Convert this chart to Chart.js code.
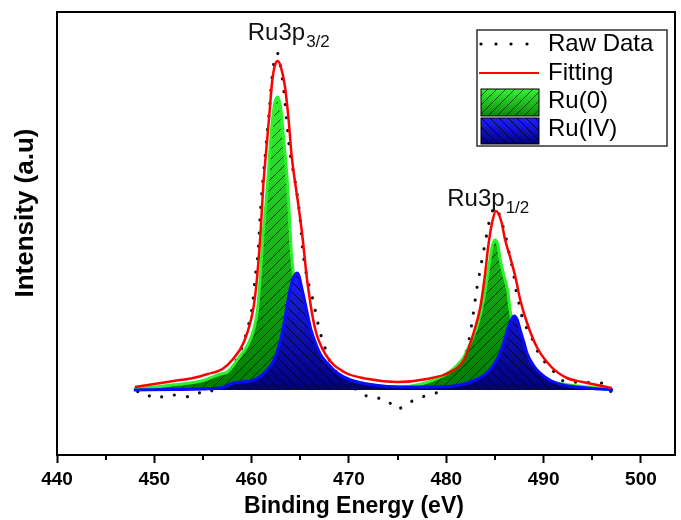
<!DOCTYPE html>
<html>
<head>
<meta charset="utf-8">
<script src="https://cdn.jsdelivr.net/npm/chart.js@4/dist/chart.umd.min.js"></script>
<style>
html,body{margin:0;padding:0;background:#fff;}
#wrap{width:681px;height:520px;}
</style>
</head>
<body>
<div id="wrap"><canvas id="c" width="681" height="520"></canvas></div>
<script>
// ---- data ----
const xTickValues = [440, 450, 460, 470, 480, 490, 500];
const seriesNames = ["Raw Data", "Fitting", "Ru(0)", "Ru(IV)"];
const xTitle = "Binding Energy (eV)";
const yTitle = "Intensity (a.u)";

const rawEnergy = [448.3,449.1,449.8,451.2,452.0,453.6,454.4,455.1,455.7,456.5,457.3,458.1,458.9,459.6,460.07,460.34,460.65,460.9,461.1,461.35,461.6,461.85,462.05,462.45,462.75,463.0,463.3,463.6,463.9,464.3,464.56,464.92,465.27,465.68,466.3,466.97,467.38,467.83,468.34,468.95,469.8,470.8,471.6,472.4,473.2,474.0,474.8,475.6,476.5,477.4,478.2,479.0,479.7,480.4,481.0,481.7,482.1,482.4,482.6,482.8,483.0,483.2,483.45,483.7,483.95,484.2,484.5,484.9,485.2,485.6,486.0,486.5,486.9,487.25,487.6,487.95,488.6,489.1,489.8,490.6,491.4,492.2,493.7,495.0,496.3,497.0];
const rawIntensity = [-1.7,-2.3,-8,-6,-5,-6.7,-3.3,-2.7,-2.3,6,14,24,40,62,84,110,137,177,203,230,257,283,308,336,336,322,300,270,240,217,203,177,138,113,90,60,47,34,22,16,8,0,-5,-8.3,-8.3,-11,-19,-16.7,-11,-7.3,-5,-2.7,5,13,19,27,40,53,65,78,92,105,118,132,145,158,172,182,182,170,158,135,117,95,82,67,57,44,32,23,15,8,8,7,6,-3];

const fitEnergy = [448.0,450.0,452.0,454.0,455.5,457.0,458.0,459.2,460.2,460.55,460.9,461.2,461.5,461.8,462.1,462.4,462.7,463.0,463.4,463.8,464.1,464.4,464.8,465.2,465.7,466.5,467.7,469.5,472.0,475.0,478.0,480.4,481.8,482.8,483.5,484.0,484.3,484.7,485.1,485.7,486.0,486.7,487.1,487.6,488.3,489.3,490.8,492.4,494.0,497.0];
const fitIntensity = [3,6,9,12,16,21,30,48,83,112,155,205,240,273,308,325,329,323,305,270,235,212,185,155,110,62,34,18,11,8,11,18,30,57,83,117,143,167,179,167,152,128,113,90,67,43,23,12,8,2];

const ru0Energy = [447.9,450.0,453.4,454.8,456.8,457.5,458.9,459.6,460.2,460.6,460.9,461.15,461.44,461.72,461.95,462.3,462.64,462.97,463.3,463.6,463.83,464.0,464.17,464.5,465.0,465.5,466.2,467.4,468.5,469.8,471.9,475.0,477.5,479.4,480.6,481.8,482.6,483.2,483.6,484.0,484.4,484.7,485.0,485.3,485.55,485.9,486.3,486.6,487.0,487.6,488.3,489.5,491.0,493.5,497.0];
const ru0Intensity = [1,3,6.7,9,16,18,35,45,60,80,115,152,183,217,250,283,293,283,250,217,183,150,127,100,72,52,38,28,18,11,6,3,6,13,20,33,50,65,80,100,125,143,150,145,130,115,100,77,58,40,27,15,8,4,1];

const ru4Energy = [447.9,452.0,456.8,458.15,460.24,461.6,462.3,462.97,463.4,463.8,464.2,464.69,465.2,465.71,466.1,466.56,467.1,467.76,468.8,470.15,472.5,475.3,478.0,480.75,482.5,484.17,485.0,485.54,486.0,486.39,486.97,487.3,487.59,488.0,488.28,489.0,489.64,490.8,492.03,494.5,497.13];
const ru4Intensity = [0,0.5,2,7,10,20,30,50,70,93,110,117,100,77,60,47,35,27,17,10,5,3,3,4,8,17,27,37,50,63,74,70,60,47,37,24,17,9,5,2,0];

const peakLabels = [
  {main: "Ru3p", sub: "3/2", energy: 459.6, intensity: 350},
  {main: "Ru3p", sub: "1/2", energy: 480.1, intensity: 184}
];

// ---- helpers ----
function pts(xs, ys){ return xs.map((x,i)=>({x:x, y:ys[i]})); }

function makeFill(top, bottom, y0, y1, dir, lineColor, spacing){
  const cv = document.createElement('canvas');
  cv.width = 681; cv.height = 520;
  const g = cv.getContext('2d');
  const grad = g.createLinearGradient(0, y0, 0, y1);
  grad.addColorStop(0, top);
  grad.addColorStop(1, bottom);
  g.fillStyle = grad;
  g.fillRect(0, 0, cv.width, cv.height);
  g.strokeStyle = lineColor;
  g.lineWidth = 1;
  g.beginPath();
  for (let k = -600; k < 1300; k += spacing){
    if (dir > 0){ g.moveTo(k, 520); g.lineTo(k + 520, 0); }
    else { g.moveTo(k, 0); g.lineTo(k + 520, 520); }
  }
  g.stroke();
  return g.createPattern(cv, 'no-repeat');
}

const greenFill = makeFill('#33f533', '#007a00', 95, 392, 1, 'rgba(0,35,0,0.9)', 10);
const blueFill = makeFill('#1e1eff', '#000078', 272, 392, -1, 'rgba(0,0,30,0.9)', 10);
const greenSwatch = makeFill('#33f533', '#0a8a0a', 89, 116, 1, 'rgba(0,40,0,0.85)', 9);
const blueSwatch = makeFill('#2020ff', '#000080', 118, 144, -1, 'rgba(0,0,30,0.9)', 9);

const FONT = "'Liberation Sans', Arial, sans-serif";

const decorPlugin = {
  id: 'decor',
  beforeDatasetsDraw(chart){
    const {ctx, chartArea:a} = chart;
    ctx.save();
    ctx.fillStyle = '#fff';
    ctx.fillRect(a.left, a.top, a.right - a.left, a.bottom - a.top);
    ctx.restore();
  },
  afterDraw(chart){
    const {ctx, chartArea:a, scales} = chart;
    const xs = scales.x, ys = scales.y;
    ctx.save();
    // frame
    ctx.strokeStyle = '#000';
    ctx.lineWidth = 2;
    ctx.strokeRect(a.left, a.top, a.right - a.left, a.bottom - a.top);
    // minor ticks
    ctx.beginPath();
    for (let v = 445; v < xs.max; v += 10){
      const px = Math.round(xs.getPixelForValue(v));
      ctx.moveTo(px, a.bottom); ctx.lineTo(px, a.bottom + 5);
    }
    ctx.stroke();
    // axis titles
    ctx.fillStyle = '#000';
    ctx.textAlign = 'center';
    ctx.textBaseline = 'middle';
    ctx.font = "bold 23px " + FONT;
    ctx.fillText(xTitle, 354, 507);
    ctx.save();
    ctx.translate(26, 213);
    ctx.rotate(-Math.PI / 2);
    ctx.font = "bold 26px " + FONT;
    ctx.fillText(yTitle, 0, 0);
    ctx.restore();
    // peak labels
    ctx.fillStyle = '#111';
    ctx.textBaseline = 'alphabetic';
    ctx.textAlign = 'left';
    peakLabels.forEach(p => {
      const px = xs.getPixelForValue(p.energy);
      const py = ys.getPixelForValue(p.intensity);
      ctx.font = "24px " + FONT;
      ctx.fillText(p.main, px, py);
      const w = ctx.measureText(p.main).width;
      ctx.font = "17px " + FONT;
      ctx.fillText(p.sub, px + w + 1, py + 7);
    });
    // legend
    const L = {x0: 477, y0: 30, x1: 667, y1: 146};
    ctx.fillStyle = '#fff';
    ctx.fillRect(L.x0, L.y0, L.x1 - L.x0, L.y1 - L.y0);
    ctx.strokeStyle = '#333';
    ctx.lineWidth = 1.5;
    ctx.strokeRect(L.x0, L.y0, L.x1 - L.x0, L.y1 - L.y0);
    ctx.fillStyle = '#000';
    [481, 496, 511, 527].forEach(x => { ctx.beginPath(); ctx.arc(x, 44, 1.6, 0, Math.PI*2); ctx.fill(); });
    ctx.strokeStyle = '#ff0000';
    ctx.lineWidth = 2;
    ctx.beginPath(); ctx.moveTo(479, 73); ctx.lineTo(539, 73); ctx.stroke();
    ctx.fillStyle = greenSwatch;
    ctx.fillRect(481, 89, 58, 27);
    ctx.strokeStyle = '#000'; ctx.lineWidth = 1;
    ctx.strokeRect(481, 89, 58, 27);
    ctx.fillStyle = blueSwatch;
    ctx.fillRect(481, 118, 58, 26);
    ctx.strokeRect(481, 118, 58, 26);
    ctx.fillStyle = '#000';
    ctx.font = "24px " + FONT;
    ctx.textBaseline = 'middle';
    const ty = [44, 73, 101, 129];
    seriesNames.forEach((n, i) => ctx.fillText(n, 548, ty[i]));
    ctx.restore();
  }
};

const chart = new Chart(document.getElementById('c'), {
  type: 'line',
  data: {
    datasets: [
      {label: seriesNames[1], data: pts(fitEnergy, fitIntensity), borderColor: '#ff0000', borderWidth: 2.5,
       pointRadius: 0, fill: false, cubicInterpolationMode: 'monotone', order: 1},
      {label: seriesNames[3], data: pts(ru4Energy, ru4Intensity), borderColor: '#0a0aff', borderWidth: 3,
       backgroundColor: blueFill, pointRadius: 0, fill: 'origin', cubicInterpolationMode: 'monotone', order: 2},
      {label: seriesNames[2], data: pts(ru0Energy, ru0Intensity), borderColor: '#2cf02c', borderWidth: 3,
       backgroundColor: greenFill, pointRadius: 0, fill: 'origin', cubicInterpolationMode: 'monotone', order: 3},
      {label: seriesNames[0], data: pts(rawEnergy, rawIntensity), borderColor: '#111', borderWidth: 3.2,
       borderDash: [0.01, 13], borderCapStyle: 'round', pointRadius: 0, fill: false, tension: 0.3, order: 4}
    ]
  },
  options: {
    responsive: false,
    devicePixelRatio: 1,
    animation: false,
    events: [],
    layout: {padding: {top: 12, right: 6, left: 0, bottom: 0}},
    plugins: {legend: {display: false}, tooltip: {enabled: false}},
    scales: {
      x: {
        type: 'linear', min: 440, max: 503.5,
        afterFit(s){ s.height = 65; },
        border: {display: false},
        grid: {drawOnChartArea: false, drawTicks: true, tickLength: 8, tickColor: '#000', tickWidth: 2},
        ticks: {stepSize: 10, includeBounds: false, color: '#000', padding: 5,
                font: {family: FONT, size: 19, weight: 'bold'},
                callback: (v) => xTickValues.includes(v) ? String(v) : ''},
        title: {display: false}
      },
      y: {
        type: 'linear', min: -65, max: 378,
        afterFit(s){ s.width = 57; },
        border: {display: false},
        grid: {display: false},
        ticks: {display: false},
        title: {display: false}
      }
    }
  },
  plugins: [decorPlugin]
});
</script>
</body>
</html>
